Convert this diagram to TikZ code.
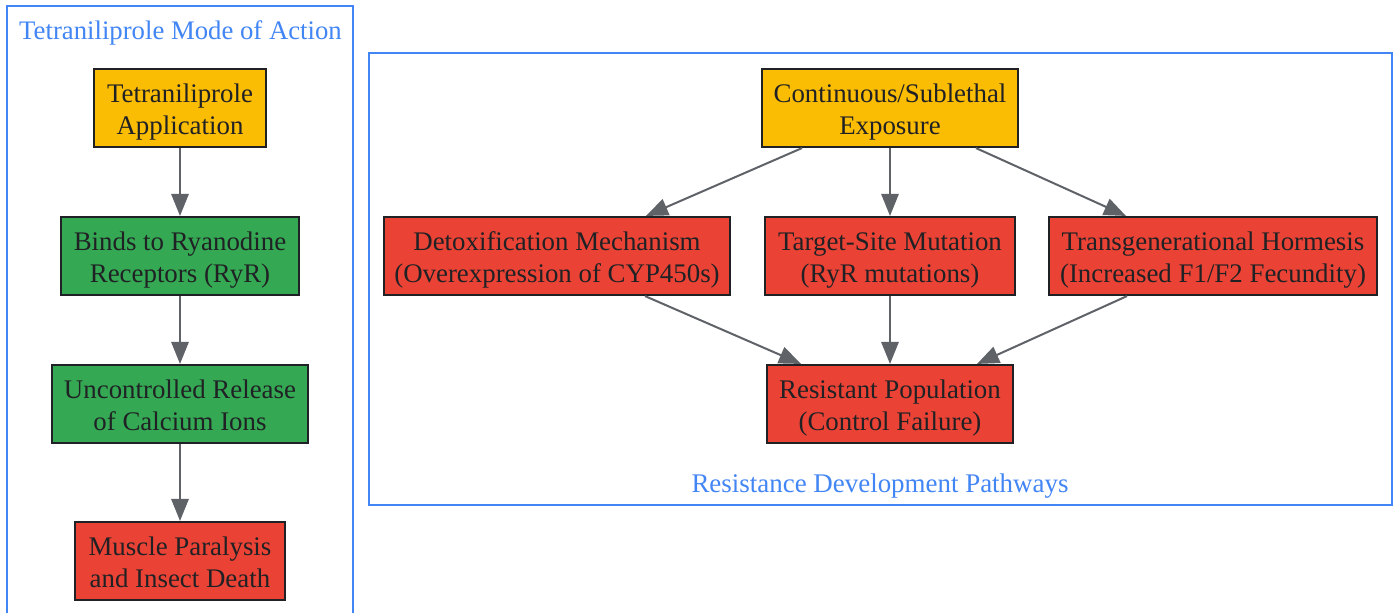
\documentclass[tikz,border=0pt]{standalone}
\usepackage{fontspec}
\setmainfont{Liberation Serif}
\usetikzlibrary{arrows.meta,calc}
\definecolor{inkc}{HTML}{202124}
\definecolor{linkc}{HTML}{5F6368}
\definecolor{bluec}{HTML}{4285F4}
\definecolor{yellowc}{HTML}{FBBC04}
\definecolor{greenc}{HTML}{34A853}
\definecolor{redc}{HTML}{EA4335}
\newcommand\twolines[2]{\rule{0pt}{20pt}#1\\#2\rule[-5pt]{0pt}{5pt}}
\tikzset{
  x=0.75pt,y=-0.75pt,
  boxbase/.style={draw=inkc,line width=1.5pt,text=inkc,inner sep=0pt,align=center,minimum height=58.6pt,font=\fontsize{20.15}{24}\selectfont},
  yellowbox/.style={boxbase,fill=yellowc},
  greenbox/.style={boxbase,fill=greenc},
  redbox/.style={boxbase,fill=redc},
  frame/.style={draw=bluec,line width=1.5pt},
  frametitle/.style={text=bluec,inner sep=0pt,font=\fontsize{20.05}{24}\selectfont},
  link/.style={draw=linkc,line width=1.5pt,-{Triangle[length=16.5pt,width=13pt]}},
}
\begin{document}
\begin{tikzpicture}
\clip (0,0) rectangle (1397,612);
\fill[white] (0,0) rectangle (1397,612);
\node[frame,minimum width=259.5pt,minimum height=480pt,anchor=north west] (leftframe) at (6,5) {};
\node[frame,minimum width=767.25pt,minimum height=339pt,anchor=north west] (rightframe) at (368,52) {};
\node[frametitle] (lefttitle) at (180.5,33) {Tetraniliprole Mode of Action};
\node[frametitle,font=\fontsize{20.2}{24}\selectfont] (righttitle) at (880,486) {Resistance Development Pathways};
\node[yellowbox,minimum width=129pt] (a) at (180,108) {\twolines{Tetraniliprole}{Application}};
\node[greenbox,minimum width=178.5pt] (b) at (180,256) {\twolines{Binds to Ryanodine}{Receptors (RyR)}};
\node[greenbox,minimum width=192pt] (c) at (180,404) {\twolines{Uncontrolled Release}{of Calcium Ions}};
\node[redbox,minimum width=157.5pt] (d) at (180,561) {\twolines{Muscle Paralysis}{and Insect Death}};
\node[yellowbox,minimum width=192pt] (e) at (890,108) {\twolines{Continuous/Sublethal}{Exposure}};
\node[redbox,minimum width=259.5pt] (f) at (557,256) {\twolines{Detoxification Mechanism}{(Overexpression of CYP450s)}};
\node[redbox,minimum width=187.5pt] (g) at (890,256) {\twolines{Target-Site Mutation}{(RyR mutations)}};
\node[redbox,minimum width=246pt] (h) at (1213,256) {\twolines{Transgenerational Hormesis}{(Increased F1/F2 Fecundity)}};
\node[redbox,minimum width=184.5pt] (i) at (890,404) {\twolines{Resistant Population}{(Control Failure)}};
\draw[link] (a) -- (b);
\draw[link] (b) -- (c);
\draw[link] (c) -- (d);
\draw[link] ($(e.south)+(-88,0)$) -- ($(f.north)+(89,0)$);
\draw[link] (e) -- (g);
\draw[link] ($(e.south)+(86,0)$) -- ($(h.north)+(-87,0)$);
\draw[link] ($(f.south)+(88,0)$) -- ($(i.north)+(-89,0)$);
\draw[link] (g) -- (i);
\draw[link] ($(h.south)+(-86,0)$) -- ($(i.north)+(87,0)$);
\end{tikzpicture}
\end{document}
